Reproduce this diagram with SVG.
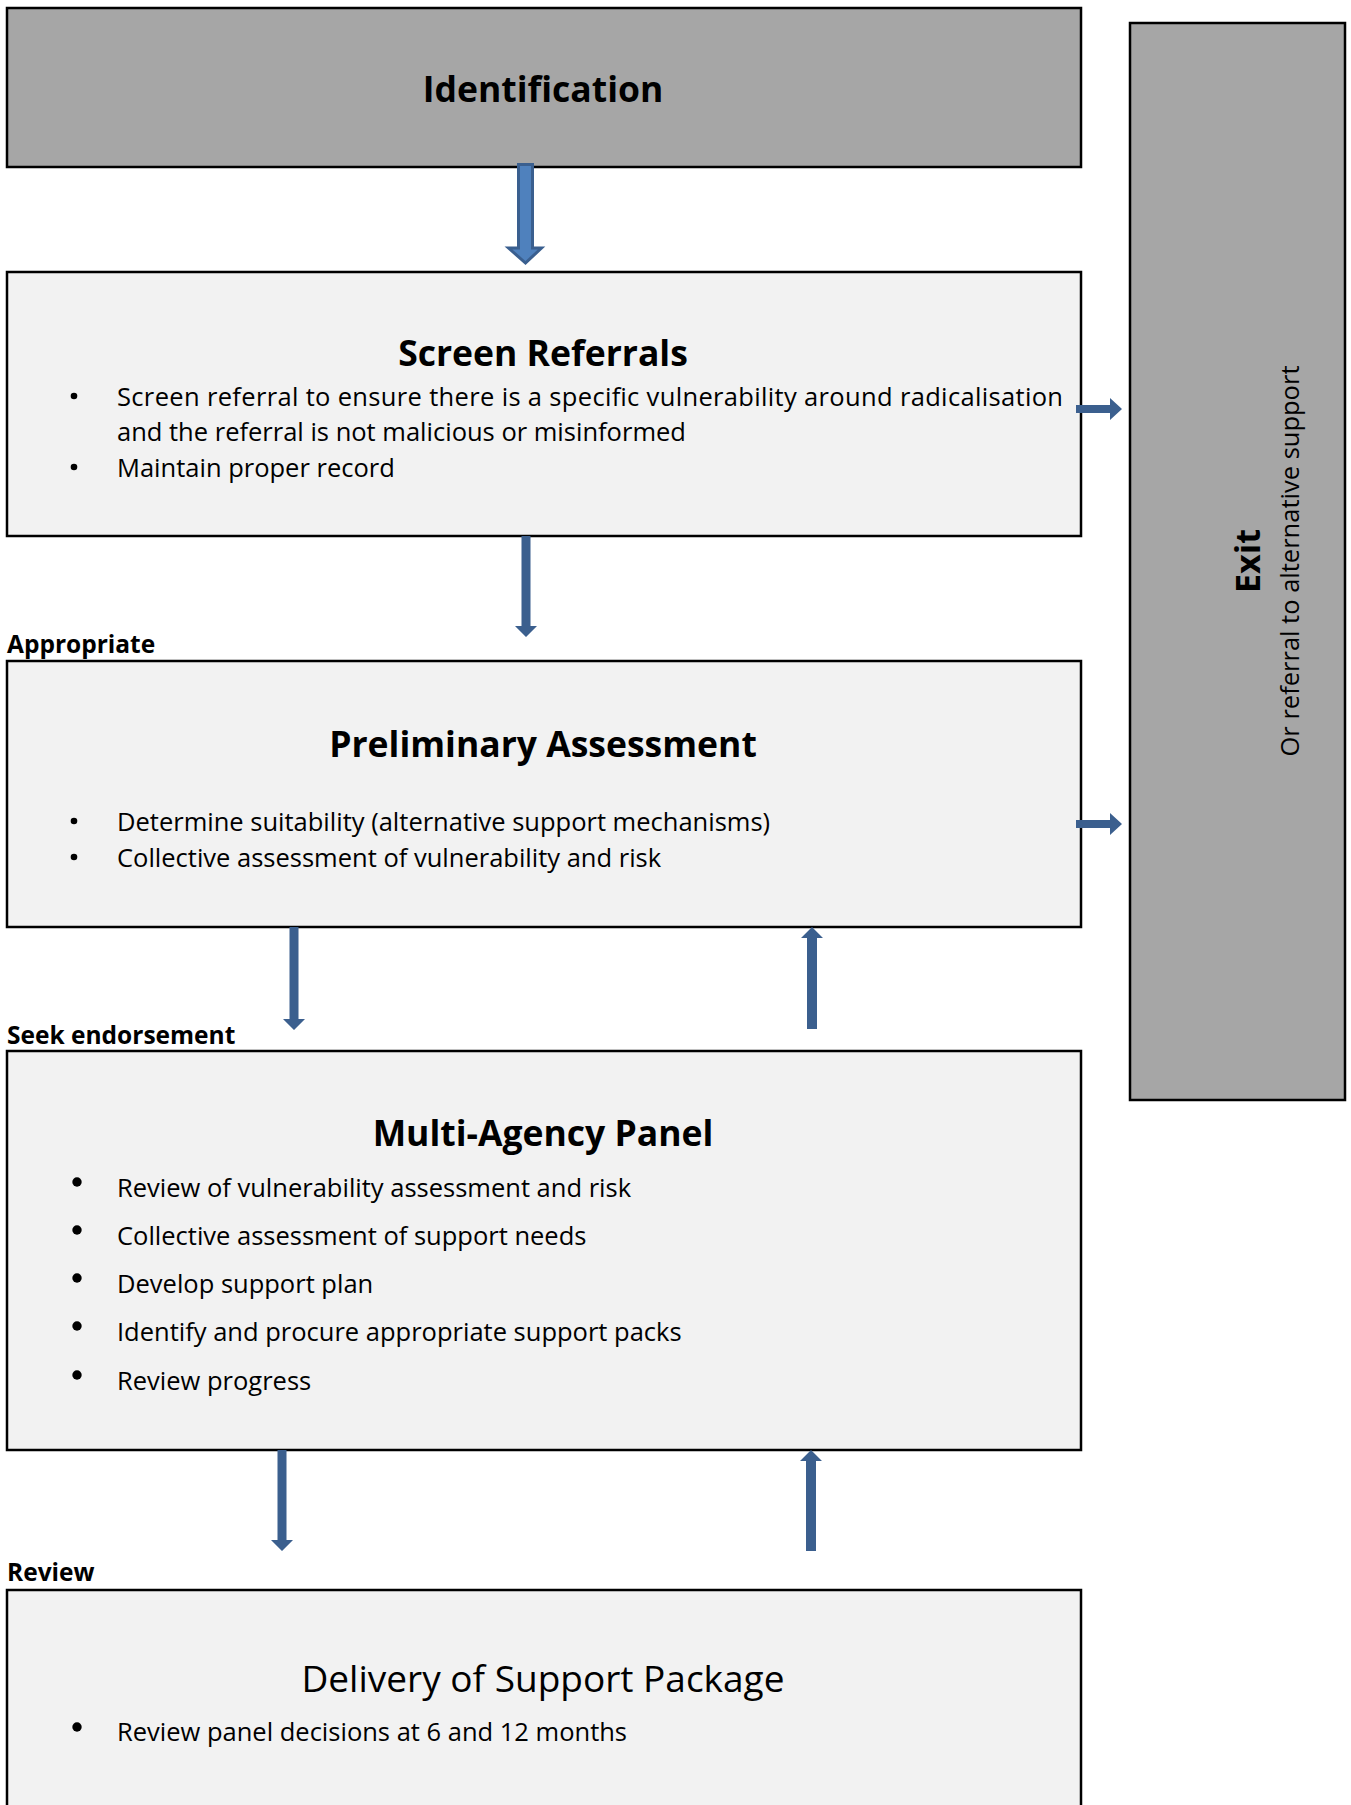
<svg xmlns="http://www.w3.org/2000/svg" width="1351" height="1805" viewBox="0 0 1351 1805">
<style>
.box{fill:#F2F2F2;stroke:#000;stroke-width:2.5}
.grey{fill:#A6A6A6;stroke:#000;stroke-width:2.5}
text{font-family:'Open Sans','Liberation Sans',sans-serif;fill:#000}
.title{font-size:35.5px;font-weight:700;text-anchor:middle}
.body{font-size:25.5px}
.lbl{font-size:24.5px;font-weight:700}
.arr{fill:#3B5F8E}
.blk{fill:#4F81BD;stroke:#3A5F8F;stroke-width:3}
.dot{fill:#000}
</style>
<rect width="1351" height="1805" fill="#fff"/>

<g id="identification">
<rect class="grey" x="7" y="8" width="1074" height="159"/>
<text class="title" x="543" y="102">Identification</text>
</g>

<g id="exit">
<rect class="grey" x="1130" y="23" width="215" height="1077"/>
<text class="title" style="font-size:34px" transform="translate(1260,561) rotate(-90)">Exit</text>
<text class="body" text-anchor="middle" transform="translate(1299,561) rotate(-90)">Or referral to alternative support</text>
</g>

<g id="screen-referrals">
<rect class="box" x="7" y="272" width="1074" height="264"/>
<text class="title" x="543" y="366">Screen Referrals</text>
<circle class="dot" cx="74" cy="396" r="3.3"/>
<text class="body" x="117" y="406" textLength="946" lengthAdjust="spacing">Screen referral to ensure there is a specific vulnerability around radicalisation</text>
<text class="body" x="117" y="441">and the referral is not malicious or misinformed</text>
<circle class="dot" cx="74" cy="467" r="3.3"/>
<text class="body" x="117" y="477">Maintain proper record</text>
</g>

<g id="label-appropriate">
<text class="lbl" x="7" y="653">Appropriate</text>
</g>

<g id="preliminary-assessment">
<rect class="box" x="7" y="661" width="1074" height="266"/>
<text class="title" x="543" y="757">Preliminary Assessment</text>
<circle class="dot" cx="74" cy="821" r="3.3"/>
<text class="body" x="117" y="831">Determine suitability (alternative support mechanisms)</text>
<circle class="dot" cx="74" cy="857" r="3.3"/>
<text class="body" x="117" y="867">Collective assessment of vulnerability and risk</text>
</g>

<g id="label-seek">
<text class="lbl" x="7" y="1044">Seek endorsement</text>
</g>

<g id="multi-agency-panel">
<rect class="box" x="7" y="1051" width="1074" height="399"/>
<text class="title" x="543" y="1146">Multi-Agency Panel</text>
<circle class="dot" cx="77" cy="1182" r="4.7"/>
<text class="body" x="117" y="1197">Review of vulnerability assessment and risk</text>
<circle class="dot" cx="77" cy="1230" r="4.7"/>
<text class="body" x="117" y="1245">Collective assessment of support needs</text>
<circle class="dot" cx="77" cy="1278" r="4.7"/>
<text class="body" x="117" y="1293">Develop support plan</text>
<circle class="dot" cx="77" cy="1326" r="4.7"/>
<text class="body" x="117" y="1341">Identify and procure appropriate support packs</text>
<circle class="dot" cx="77" cy="1375" r="4.7"/>
<text class="body" x="117" y="1390">Review progress</text>
</g>

<g id="label-review">
<text class="lbl" x="7" y="1581">Review</text>
</g>

<g id="delivery">
<rect class="box" x="7" y="1590" width="1074" height="240"/>
<text class="title" style="font-size:37px;font-weight:400" x="543" y="1692">Delivery of Support Package</text>
<circle class="dot" cx="77" cy="1727" r="4.7"/>
<text class="body" x="117" y="1741">Review panel decisions at 6 and 12 months</text>
</g>

<g id="connectors">
<path class="blk" d="M518.5,164.5 H532.5 V248 H541.5 L525.5,263 L508.5,248 H518.5 Z"/>
<path class="arr" d="M521.5,536 H530.5 V626 H537 L526,637 L515,626 H521.5 Z"/>
<path class="arr" d="M289.5,927 H298.5 V1019 H305 L294,1030 L283,1019 H289.5 Z"/>
<path class="arr" d="M807,1029 H817 V938 H823 L812,927 L801,938 H807 Z"/>
<path class="arr" d="M277.5,1450 H286.5 V1540 H293 L282,1551 L271,1540 H277.5 Z"/>
<path class="arr" d="M806,1551 H816 V1461 H822 L811,1450 L800,1461 H806 Z"/>
<path class="arr" d="M1076,405 H1110 V398 L1122,409 L1110,420 V413 H1076 Z"/>
<path class="arr" d="M1076,820 H1110 V813 L1122,824 L1110,835 V828 H1076 Z"/>
</g>
</svg>
